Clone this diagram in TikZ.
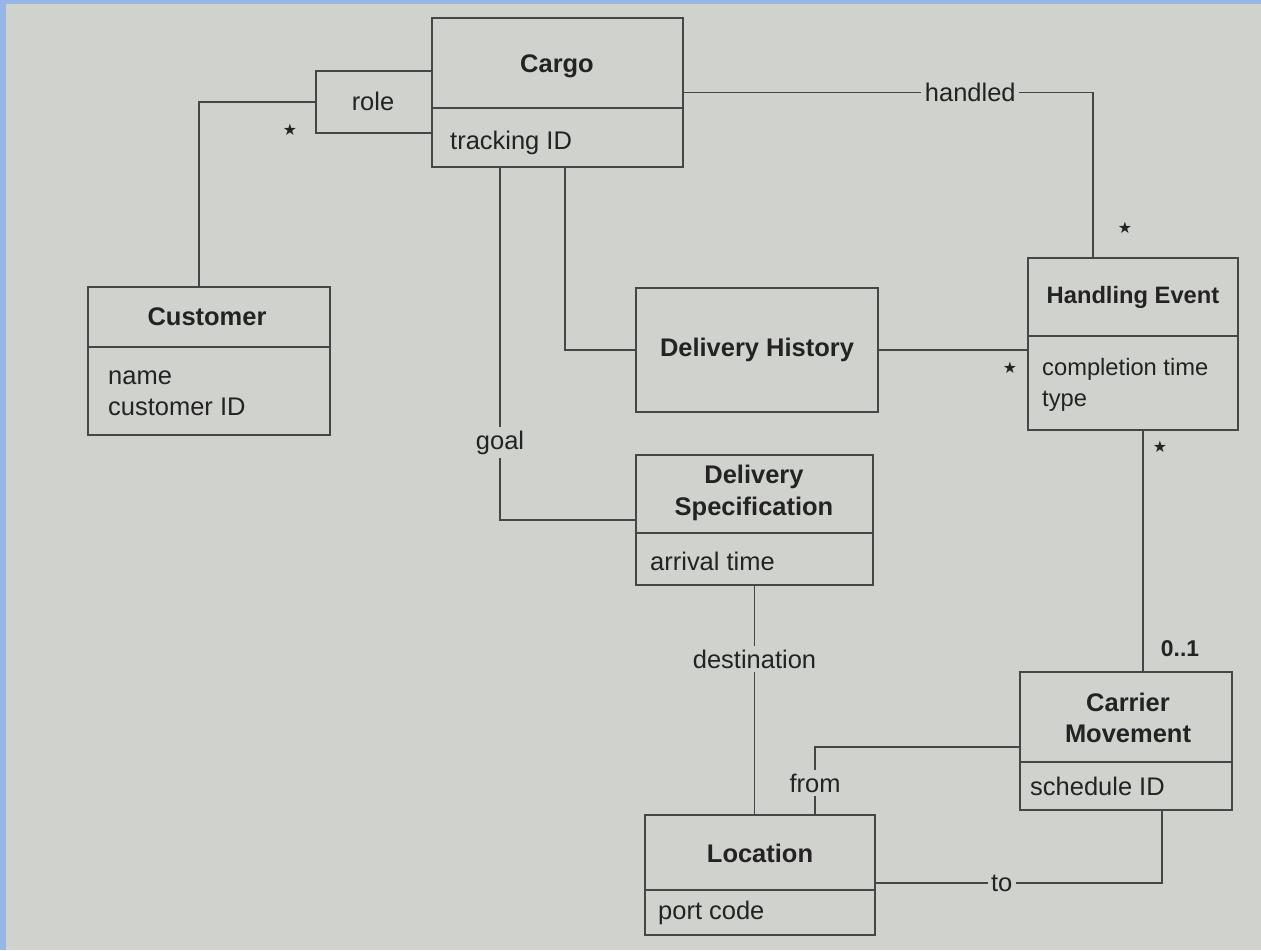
\documentclass[tikz,border=0pt]{standalone}
\usepackage{fontspec}
\setmainfont{Liberation Sans}
\newfontfamily\symfont{DejaVu Sans}
\usetikzlibrary{fit,calc}
\definecolor{paper}{RGB}{208,210,206}
\definecolor{ink}{RGB}{35,35,35}
\definecolor{edge}{RGB}{70,70,70}
\definecolor{frame}{RGB}{150,182,230}
\begin{document}
\begin{tikzpicture}[x=0.02cm,y=-0.02cm,
  cls/.style={draw=edge, line width=1pt, inner sep=0pt},
  title/.style={text=ink, font=\fontsize{14.5}{18}\selectfont\bfseries, align=center},
  attr/.style={text=ink, font=\fontsize{14.5}{17.5}\selectfont, anchor=west, align=left},
  lbl/.style={text=ink, font=\fontsize{14.5}{17}\selectfont, fill=paper, inner sep=2pt},
  conn/.style={draw=edge, line width=1pt},
  mult/.style={text=ink, font=\symfont\fontsize{9}{10}\selectfont}]
\useasboundingbox (0,0) rectangle (1261,950);
\fill[paper] (0,0) rectangle (1261,950);
\fill[frame] (0,0) rectangle (6,950);
\fill[frame] (0,0) rectangle (1261,4);

% classes
\node[cls, fit={(432,18) (683,167)}] (cargo) {};
\draw[conn] (cargo.west |- 0,108) -- (cargo.east |- 0,108);
\node[title] (cargoT) at (557,66) {Cargo};
\node[attr] (cargoA) at (444,143) {tracking ID};

\node[cls, fit={(316,71) (432,133)}] (role) {};
\node[text=ink, font=\fontsize{14.5}{17}\selectfont] (roleT) at (373,101) {role};

\node[cls, fit={(88,287) (330,435)}] (customer) {};
\draw[conn] (customer.west |- 0,347) -- (customer.east |- 0,347);
\node[title] (customerT) at (207,317) {Customer};
\node[attr] (customerA) at (102,393) {name\\customer ID};

\node[cls, fit={(1028,258) (1238,430)}] (he) {};
\draw[conn] (he.west |- 0,336) -- (he.east |- 0,336);
\node[title, font=\fontsize{13.5}{17}\selectfont\bfseries] (heT) at (1133,297) {Handling Event};
\node[attr, font=\fontsize{13.5}{17.5}\selectfont] (heA) at (1036,385) {completion time\\type};

\node[cls, fit={(636,288) (878,412)}] (dh) {};
\node[title] (dhT) at (757,350) {Delivery History};

\node[cls, fit={(636,455) (873,585)}] (ds) {};
\draw[conn] (ds.west |- 0,533) -- (ds.east |- 0,533);
\node[title] (dsT) at (754,493) {Delivery\\Specification};
\node[attr] (dsA) at (644,561) {arrival time};

\node[cls, fit={(645,815) (875,935)}] (loc) {};
\draw[conn] (loc.west |- 0,890) -- (loc.east |- 0,890);
\node[title] (locT) at (760,853) {Location};
\node[attr] (locA) at (652,913) {port code};

\node[cls, fit={(1020,672) (1232,810)}] (cm) {};
\draw[conn] (cm.west |- 0,762) -- (cm.east |- 0,762);
\node[title] (cmT) at (1128,718) {Carrier\\Movement};
\node[attr] (cmA) at (1024,786) {schedule ID};

% connectors
\draw[conn] (role.west) -| ([xshift=-0.2cm]customer.north);
\draw[conn] (cargo.east) -| node[lbl,pos=0.35] (handledL) {handled} ([xshift=-0.8cm]he.north);
\draw[conn] ([xshift=0.15cm]cargo.south) |- (dh.west);
\draw[conn] ([xshift=-1.15cm]cargo.south) |- node[lbl,pos=0.39] (goalL) {goal} (ds.west);
\draw[conn] (dh.east) -- (dh.east -| he.west);
\draw[conn] (ds.south) -- node[lbl,pos=0.32] (destL) {destination} (ds.south |- loc.north);
\draw[conn] ([xshift=0.2cm]he.south) -- ([xshift=0.2cm]he.south |- cm.north);
\draw[conn] ([yshift=-0.12cm]cm.west) -| node[lbl,pos=0.77] (fromL) {from} ([xshift=1.1cm]loc.north);
\draw[conn] ([yshift=-0.16cm]loc.east) -| node[lbl,pos=0.22] (toL) {to} ([xshift=0.72cm]cm.south);

% multiplicities
\node[mult] (m1) at (290,130) {★};
\node[mult] (m2) at (1125,228) {★};
\node[mult] (m3) at (1010,368) {★};
\node[mult] (m4) at (1160,447) {★};
\node[text=ink, font=\fontsize{13}{15}\selectfont\bfseries] (m5) at (1180,649) {0..1};
\end{tikzpicture}
\end{document}
